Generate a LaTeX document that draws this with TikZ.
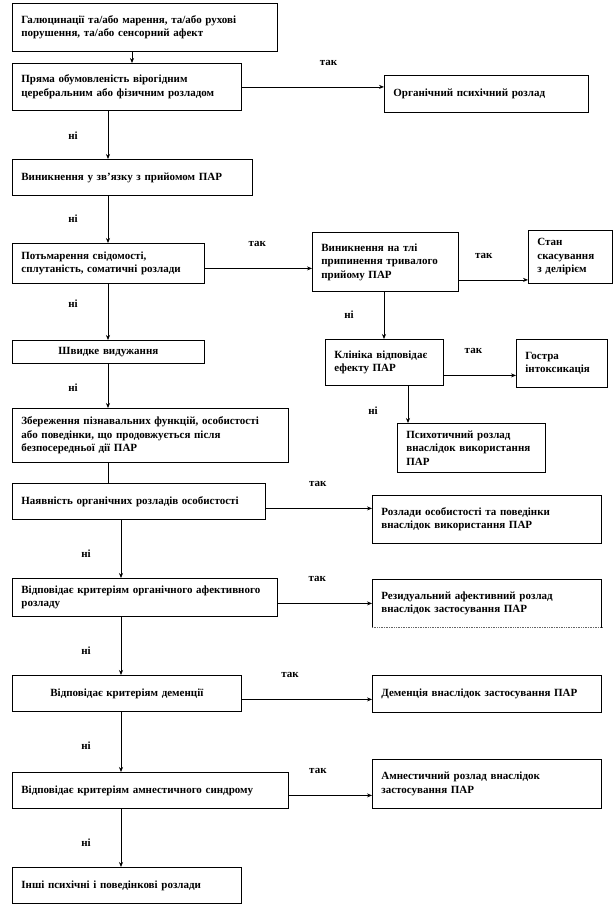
\documentclass[tikz,border=0pt]{standalone}
\usepackage{fontspec}
\setmainfont{Liberation Serif}
\usetikzlibrary{arrows.meta,positioning}

\begin{document}
\begin{tikzpicture}[
      x=1pt, y=-1pt,
      font=\fontsize{11}{13.5}\selectfont\bfseries,
      box/.style={rectangle, draw=black, line width=0.8pt, fill=white,
                  anchor=north west, align=left,
                  inner xsep=9pt, inner ysep=3pt},
      a/.style={-{Stealth[length=5pt,width=4pt]}, line width=0.7pt},
      ln/.style={line width=0.7pt},
      ylab/.style={inner sep=0pt, above=21pt},
      nlab/.style={inner sep=0pt, left=30pt},
    ]
      \useasboundingbox (0,0) rectangle (615,906);

      \coordinate (ta) at (132,0);
      \coordinate (tb) at (108,0);
      \coordinate (tc) at (121,0);
      \coordinate (td) at (384,0);
      \coordinate (te) at (408,0);

      \node[box, text width=247pt, minimum height=48pt] (halu) at (12,3)
           {Галюцинації та/або марення, та/або рухові\\
            порушення, та/або сенсорний афект};
      \node[box, text width=211pt, minimum height=47pt] (cere) at (12,63)
           {Пряма обумовленість вірогідним\\
            церебральним або фізичним розладом};
      \node[box, text width=186pt, minimum height=37pt] (orgp) at (384,75)
           {Органічний психічний розлад};
      \node[box, text width=222pt, minimum height=36pt] (par) at (12,159)
           {Виникнення у зв’язку з прийомом ПАР};
      \node[box, text width=174pt, minimum height=40pt] (cons) at (12,243)
           {Потьмарення свідомості,\\
            сплутаність, соматичні розлади};
      \node[box, text width=128pt, minimum height=59pt] (wdr) at (312,232)
           {Виникнення на тлі\\припинення тривалого\\прийому ПАР};
      \node[box, text width=66pt, minimum height=53pt] (deli) at (528,230)
           {Стан\\скасування\\з делірієм};
      \node[box, align=center, text width=174pt, minimum height=23pt]
           (fast) at (12,340) {Швидке видужання};
      \node[box, text width=100pt, minimum height=46pt] (clin) at (325,339)
           {Клініка відповідає\\ефекту ПАР};
      \node[box, text width=73pt, minimum height=48pt] (intox) at (516,339)
           {Гостра\\інтоксикація};
      \node[box, text width=130pt, minimum height=49pt] (psych) at (397,423)
           {Психотичний розлад\\внаслідок використання\\ПАР};
      \node[box, text width=258pt, minimum height=54pt] (pers) at (12,408)
           {Збереження пізнавальних функцій, особистості\\
            або поведінки, що продовжується після\\
            безпосередньої дії ПАР};
      \node[box, text width=235pt, minimum height=36pt] (orgpers) at (12,483)
           {Наявність органічних розладів особистості};
      \node[box, text width=211pt, minimum height=48pt] (persdis) at (372,495)
           {Розлади особистості та поведінки\\
            внаслідок використання ПАР};
      \node[box, text width=247pt, minimum height=38pt] (affc) at (12,578)
           {Відповідає критеріям органічного афективного\\розладу};
      \node[box, draw=none, text width=211pt, minimum height=48pt]
           (resid) at (372,579)
           {Резидуальний афективний розлад\\
            внаслідок застосування ПАР};
      \node[box, align=center, text width=211pt, minimum height=36pt]
           (demc) at (12,675) {Відповідає критеріям деменції};
      \node[box, text width=211pt, minimum height=37pt] (dem) at (372,675)
           {Деменція внаслідок застосування ПАР};
      \node[box, text width=258pt, minimum height=36pt] (amnc) at (12,772)
           {Відповідає критеріям амнестичного синдрому};
      \node[box, text width=211pt, minimum height=49pt] (amn) at (372,759)
           {Амнестичний розлад внаслідок\\застосування ПАР};
      \node[box, text width=211pt, minimum height=36pt] (other) at (12,867)
           {Інші психічні і поведінкові розлади};

      \draw[ln] (resid.south west) -- (resid.north west)
                -- (resid.north east) -- (resid.south east);
      \draw[ln, densely dotted, black!60] (resid.south west) -- (resid.south east);

      \draw[a]  (halu.south -| ta) -- (cere.north -| ta);
      \draw[a]  (cere.east) -- (cere.east -| orgp.west)
                node[ylab, pos=0.61] (y1) {так};
      \draw[a]  (cere.south -| tb) -- (par.north -| tb)
                node[nlab, pos=0.51] (n1) {ні};
      \draw[a]  (par.south -| tb) -- (cons.north -| tb)
                node[nlab, pos=0.48] (n2) {ні};
      \draw[a]  ([yshift=-5pt]cons.east) -- ([yshift=-5pt]cons.east -| wdr.west)
                node[ylab, pos=0.49] (y2) {так};
      \draw[a]  (cons.south -| tb) -- (fast.north -| tb)
                node[nlab, pos=0.35] (n3) {ні};
      \draw[a]  ([yshift=-18pt]wdr.east) -- ([yshift=-18pt]wdr.east -| deli.west)
                node[ylab, pos=0.36] (y3) {так};
      \draw[a]  (wdr.south -| td) -- (clin.north -| td)
                node[nlab, pos=0.48] (n4) {ні};
      \draw[a]  (fast.south -| tb) -- (pers.north -| tb)
                node[nlab, pos=0.53] (n5) {ні};
      \draw[a]  ([yshift=-13pt]clin.east) -- ([yshift=-13pt]clin.east -| intox.west)
                node[ylab, pos=0.41] (y4) {так};
      \draw[a]  (clin.south -| te) -- (psych.north -| te)
                node[nlab, pos=0.66] (n6) {ні};
      \draw[ln] (pers.south -| tb) -- (orgpers.north -| tb);
      \draw[a]  ([yshift=-7pt]orgpers.east) -- ([yshift=-7pt]orgpers.east -| persdis.west)
                node[ylab, pos=0.49] (y5) {так};
      \draw[a]  (orgpers.south -| tc) -- (affc.north -| tc)
                node[nlab, pos=0.59] (n7) {ні};
      \draw[a]  ([yshift=-6pt]affc.east) -- ([yshift=-6pt]affc.east -| resid.west)
                node[ylab, pos=0.42] (y6) {так};
      \draw[a]  (affc.south -| tc) -- (demc.north -| tc)
                node[nlab, pos=0.59] (n8) {ні};
      \draw[a]  ([yshift=-6pt]demc.east) -- ([yshift=-6pt]demc.east -| dem.west)
                node[ylab, pos=0.37] (y7) {так};
      \draw[a]  (demc.south -| tc) -- (amnc.north -| tc)
                node[nlab, pos=0.57] (n9) {ні};
      \draw[a]  ([yshift=-5pt]amnc.east) -- ([yshift=-5pt]amnc.east -| amn.west)
                node[ylab, pos=0.35] (y8) {так};
      \draw[a]  (amnc.south -| tc) -- (other.north -| tc)
                node[nlab, pos=0.58] (n10) {ні};
    \end{tikzpicture}
\end{document}
